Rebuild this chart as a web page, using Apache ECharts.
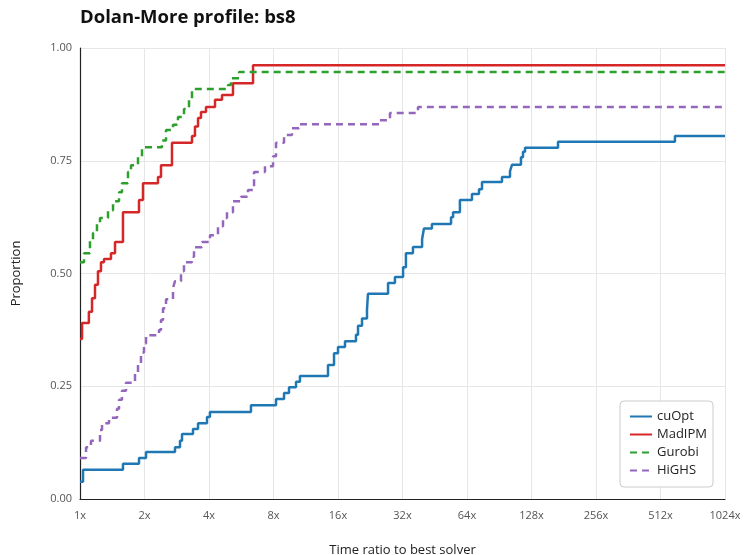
<!DOCTYPE html>
<html>
<head>
<meta charset="utf-8">
<script src="https://cdn.jsdelivr.net/npm/echarts@6/dist/echarts.min.js"></script>
<style>
  html, body { margin: 0; padding: 0; background: #fff; }
  #chart { width: 744px; height: 555px; }
</style>
</head>
<body>
<div id="chart"></div>
<script>
// [time ratio, proportion solved] pairs
var cuOpt = [
  [1.0, 0.038], [1.033, 0.065], [1.587, 0.078], [1.885, 0.091], [2.033, 0.104],
  [2.776, 0.115], [2.929, 0.129], [2.993, 0.144], [3.368, 0.155], [3.555, 0.168],
  [3.915, 0.182], [4.04, 0.193], [6.28, 0.208], [8.22, 0.222], [8.96, 0.235],
  [9.45, 0.248], [10.19, 0.26], [10.63, 0.273], [14.37, 0.297], [15.33, 0.323],
  [16.0, 0.337], [17.25, 0.35], [19.41, 0.364], [19.84, 0.384], [20.71, 0.40],
  [21.85, 0.42], [22.08, 0.455], [27.4, 0.479], [29.5, 0.492], [32.2, 0.514],
  [33.2, 0.545], [35.8, 0.559], [39.5, 0.576], [40.3, 0.60], [43.9, 0.61],
  [53.9, 0.625], [55.1, 0.636], [59.3, 0.663], [67.5, 0.676], [72.8, 0.687],
  [75.2, 0.703], [93.2, 0.714], [101.6, 0.727], [103.8, 0.741], [114.3, 0.758],
  [116.8, 0.77], [119.4, 0.779], [170.2, 0.792], [598, 0.805], [1024, 0.805]
];
var madIPM = [
  [1.0, 0.355], [1.022, 0.39], [1.10, 0.415], [1.138, 0.445], [1.175, 0.475],
  [1.213, 0.505], [1.253, 0.525], [1.294, 0.532], [1.395, 0.545], [1.457, 0.57],
  [1.587, 0.636], [1.885, 0.663], [1.968, 0.70], [2.312, 0.714], [2.388, 0.74],
  [2.687, 0.79], [3.332, 0.805], [3.44, 0.826], [3.555, 0.845], [3.67, 0.858],
  [3.873, 0.869], [4.267, 0.885], [4.60, 0.896], [5.176, 0.922], [6.42, 0.962],
  [1024, 0.962]
];
var gurobi = [
  [1.0, 0.525], [1.044, 0.545], [1.113, 0.575], [1.15, 0.59], [1.20, 0.61],
  [1.24, 0.623], [1.351, 0.64], [1.426, 0.66], [1.521, 0.68], [1.57, 0.70],
  [1.675, 0.725], [1.73, 0.74], [1.865, 0.76], [1.947, 0.78], [2.413, 0.795],
  [2.52, 0.818], [2.717, 0.83], [2.866, 0.847], [3.057, 0.865], [3.227, 0.885],
  [3.332, 0.909], [4.907, 0.918], [5.067, 0.933], [5.523, 0.947], [1024, 0.947]
];
var highs = [
  [1.0, 0.091], [1.067, 0.115], [1.125, 0.129], [1.24, 0.153], [1.267, 0.168],
  [1.366, 0.18], [1.488, 0.20], [1.521, 0.22], [1.57, 0.24], [1.639, 0.258],
  [1.806, 0.28], [1.865, 0.30], [1.926, 0.325], [1.989, 0.345], [2.033, 0.363],
  [2.337, 0.375], [2.388, 0.397], [2.44, 0.423], [2.52, 0.443], [2.717, 0.468],
  [2.776, 0.483], [2.961, 0.505], [3.057, 0.525], [3.332, 0.537], [3.405, 0.558],
  [3.71, 0.57], [4.043, 0.585], [4.406, 0.605], [4.65, 0.623], [4.853, 0.636],
  [5.176, 0.66], [5.64, 0.67], [6.08, 0.685], [6.49, 0.725], [7.30, 0.738],
  [7.96, 0.76], [8.22, 0.79], [8.96, 0.807], [9.76, 0.822], [10.52, 0.831],
  [25.1, 0.84], [27.97, 0.856], [37.8, 0.869], [1024, 0.869]
];

var chart = echarts.init(document.getElementById('chart'));

var font = '"Open Sans", "Noto Sans", sans-serif';

function stepSeries(name, data, color, dashed) {
  return {
    name: name,
    type: 'line',
    step: 'end',
    data: data,
    symbol: 'none',
    showSymbol: false,
    animation: false,
    itemStyle: { color: color },
    lineStyle: { color: color, width: 2.5, type: dashed ? [7, 5] : 'solid' }
  };
}

var option = {
  backgroundColor: '#fff',
  textStyle: { fontFamily: font },
  title: {
    text: 'Dolan-More profile: bs8',
    left: 75,
    top: 3,
    textStyle: { fontSize: 18.5, fontWeight: 'bold', color: '#111', fontFamily: font }
  },
  grid: { left: 80, right: 19, top: 48, bottom: 56, outerBoundsMode: 'none', containLabel: false },
  legend: {
    orient: 'vertical',
    right: 31,
    bottom: 68,
    padding: [9, 6, 10, 9],
    itemGap: 5,
    itemWidth: 22,
    itemHeight: 14,
    itemTextGap: 6,
    backgroundColor: '#fff',
    borderColor: '#ccc',
    borderWidth: 1,
    borderRadius: 4,
    itemStyle: { opacity: 0 },
    textStyle: { fontSize: 13, color: '#222' },
    data: ['cuOpt', 'MadIPM', 'Gurobi', 'HiGHS']
  },
  xAxis: {
    type: 'log',
    logBase: 2,
    min: 1,
    max: 1024,
    interval: 1,
    name: 'Time ratio to best solver',
    nameLocation: 'middle',
    nameGap: 45,
    nameTextStyle: { fontSize: 13, color: '#222' },
    axisLine: { lineStyle: { color: '#222', width: 1.2 } },
    axisTick: { show: false },
    axisLabel: { color: '#555', fontSize: 11, margin: 11, formatter: function (v) { return Math.round(v) + 'x'; } },
    splitLine: { show: true, lineStyle: { color: '#e6e6e6', width: 1 } }
  },
  yAxis: {
    type: 'value',
    min: 0,
    max: 1,
    interval: 0.25,
    name: 'Proportion',
    nameLocation: 'middle',
    nameGap: 57,
    nameTextStyle: { fontSize: 13, color: '#222' },
    axisLine: { show: true, lineStyle: { color: '#222', width: 1.2 } },
    axisTick: { show: false },
    axisLabel: { color: '#555', fontSize: 11, margin: 8, formatter: function (v) { return v.toFixed(2); } },
    splitLine: { show: true, lineStyle: { color: '#e6e6e6', width: 1 } }
  },
  series: [
    stepSeries('cuOpt', cuOpt, '#1f77b4', false),
    stepSeries('MadIPM', madIPM, '#d62728', false),
    stepSeries('Gurobi', gurobi, '#2ca02c', true),
    stepSeries('HiGHS', highs, '#9467bd', true)
  ]
};

chart.setOption(option);
</script>
</body>
</html>
